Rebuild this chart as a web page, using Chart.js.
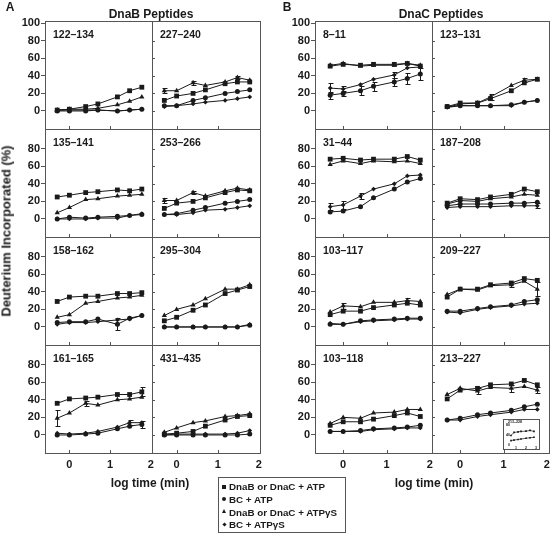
<!DOCTYPE html>
<html>
<head>
<meta charset="utf-8">
<script src="https://cdn.jsdelivr.net/npm/chart.js@4.4.0/dist/chart.umd.min.js"></script>
<style>
  body { margin: 0; background: #fff; }
  #fig { position: relative; width: 551px; height: 534px; overflow: hidden; background: #fff;
         font-family: "Liberation Sans", Arial, sans-serif; color: #1a1a1a; }
  #fig canvas { position: absolute; }
  .txt { position: absolute; font-weight: bold; white-space: nowrap; line-height: 1; transform: translate(-50%, -50%); }
  .tag { position: absolute; font-weight: bold; font-size: 10.5px; line-height: 1; white-space: nowrap; }
  #legend { position: absolute; left: 218px; top: 477px; width: 128px; height: 56px; border: 1px solid #555; box-sizing: border-box; }
  .leg { position: absolute; left: 0; font-size: 9.8px; font-weight: bold; line-height: 1; white-space: nowrap; }
  .leg i { position: absolute; left: 3px; top: 2.5px; width: 4px; height: 4px; background: #1a1a1a; }
  .leg span { position: absolute; left: 10px; top: 0; }
  #insetBox { position: absolute; left: 503px; top: 419px; width: 37px; height: 31px; border: 1px solid #555; background: #fff; box-sizing: border-box; }
</style>
</head>
<body>
<div id="fig"></div>
<script>
// time points (log10 of minutes)
const logTime = [-0.3, 0, 0.4, 0.7, 1.18, 1.48, 1.78];
const yTickValues = [0, 20, 40, 60, 80, 100];
const xTickValues = [0, 1, 2];
const seriesLabels = ['DnaB or DnaC + ATP', 'BC + ATP', 'DnaB or DnaC + ATP\u03b3S', 'BC + ATP\u03b3S'];

// every panel: [ATP (square), BC + ATP (circle), ATPyS (triangle), BC + ATPyS (diamond)]
const b122_134 = [[1, 2, 5, 8, 16, 23, 27], [0, 0, 0, 1, 0, 1, 2], [1, 2, 2, 3, 7, 11, 16], [1, 1, 1, 1, 0, 1, 2]];
const b227_240 = [[12, 17, 20, 24, 31, 33, 33], [6, 6, 12, 15, 20, 22, 24], [23, 23, 32, 29, 33, 38, 35], [5, 6, 8, 10, 12, 14, 16]];
const b135_141 = [[25, 27, 30, 31, 33, 32, 34], [0, 2, 1, 2, 3, 4, 5], [7, 13, 22, 23, 26, 27, 28], [0, 0, 0, 1, 1, 4, 6]];
const b253_266 = [[12, 18, 20, 24, 30, 33, 32], [5, 6, 10, 13, 18, 20, 22], [21, 21, 30, 26, 32, 35, 33], [5, 5, 7, 10, 11, 13, 15]];
const b158_162 = [[29, 34, 35, 35, 38, 38, 39], [5, 6, 6, 9, 3, 10, 13], [11, 14, 27, 29, 33, 34, 36], [3, 5, 5, 6, 8, 9, 13]];
const b295_304 = [[7, 11, 19, 25, 38, 42, 46], [0, 0, 0, 0, 0, 0, 2], [13, 20, 25, 32, 43, 43, 48], [0, 0, 0, 0, 0, 0, 3]];
const b161_165 = [[36, 41, 42, 43, 46, 46, 49], [0, 0, 1, 2, 7, 10, 12], [19, 25, 36, 34, 40, 41, 43], [2, 1, 2, 4, 9, 14, 14]];
const b431_435 = [[1, 2, 4, 10, 17, 21, 22], [0, 0, 0, 0, 0, 0, 1], [3, 8, 14, 16, 21, 22, 24], [0, 1, 1, 1, 1, 2, 5]];

const c8_11 = [[51, 53, 52, 53, 53, 54, 51], [18, 20, 23, 28, 33, 37, 42], [52, 54, 51, 52, 52, 54, 52], [26, 25, 30, 36, 41, 49, 50]];
const c123_131 = [[5, 9, 9, 14, 23, 32, 36], [5, 6, 6, 6, 7, 10, 12], [4, 8, 9, 16, 29, 35, 36], [4, 6, 6, 6, 6, 10, 12]];
const c31_44 = [[68, 69, 67, 68, 68, 71, 67], [8, 9, 14, 24, 34, 42, 46], [62, 66, 63, 66, 65, 66, 63], [14, 16, 26, 34, 40, 49, 50]];
const c187_208 = [[18, 23, 22, 25, 28, 34, 31], [15, 17, 17, 17, 18, 18, 19], [17, 21, 20, 23, 25, 28, 27], [13, 14, 14, 14, 15, 15, 15]];
const c103_117 = [[14, 18, 18, 22, 25, 27, 25], [3, 3, 7, 8, 9, 10, 10], [17, 24, 23, 28, 28, 30, 29], [4, 3, 6, 7, 8, 9, 9]];
const c209_227 = [[34, 43, 43, 48, 50, 55, 53], [18, 18, 21, 23, 25, 29, 31], [37, 43, 42, 47, 48, 52, 43], [17, 16, 20, 22, 24, 26, 27]];
const c103_118 = [[11, 15, 15, 18, 22, 25, 21], [4, 4, 5, 7, 8, 9, 11], [13, 20, 19, 25, 26, 29, 29], [4, 4, 4, 6, 7, 8, 8]];
const c213_227 = [[41, 51, 53, 57, 58, 62, 57], [17, 19, 23, 25, 28, 32, 35], [46, 53, 50, 54, 53, 55, 51], [17, 17, 21, 23, 26, 29, 29]];

// error bars worth drawing: [panel, series, time index, +/-]
const errorBars = [
  ['8–11', 1, 0, 4], ['8–11', 3, 0, 6], ['8–11', 1, 1, 3], ['8–11', 3, 1, 3], ['8–11', 1, 2, 5],
  ['8–11', 1, 3, 5], ['8–11', 1, 4, 5], ['8–11', 3, 4, 3], ['8–11', 1, 5, 6], ['8–11', 1, 6, 7],
  ['123–131', 2, 3, 3], ['123–131', 2, 5, 2],
  ['227–240', 2, 0, 3], ['227–240', 2, 2, 2], ['227–240', 2, 5, 2],
  ['253–266', 2, 0, 3], ['253–266', 2, 2, 2],
  ['158–162', 1, 4, 7],
  ['161–165', 2, 0, 9], ['161–165', 2, 2, 3], ['161–165', 0, 6, 5], ['161–165', 1, 6, 4], ['161–165', 3, 5, 3],
  ['31–44', 3, 0, 4], ['31–44', 3, 1, 5], ['31–44', 3, 2, 3],
  ['187–208', 3, 6, 3],
  ['103–117', 2, 1, 3], ['103–117', 2, 5, 3],
  ['209–227', 2, 4, 3], ['209–227', 2, 6, 8],
  ['213–227', 2, 2, 3], ['213–227', 2, 4, 4], ['213–227', 2, 6, 3]
];

// small inset in 213-227 (peptide 213-228)
const insetTime = [0.5, 0.8, 1.2, 1.5, 2.0, 2.4, 2.8];
const insetUpper = [38, 50, 52, 54, 55, 58, 54];
const insetLower = [18, 20, 22, 24, 27, 29, 31];
const insetYTicks = [0, 20, 40, 60, 80];
const insetXTicks = [1, 2, 3];

const dnaBPanels = [
  ['122–134', b122_134], ['227–240', b227_240],
  ['135–141', b135_141], ['253–266', b253_266],
  ['158–162', b158_162], ['295–304', b295_304],
  ['161–165', b161_165], ['431–435', b431_435]
];
const dnaCPanels = [
  ['8–11', c8_11], ['123–131', c123_131],
  ['31–44', c31_44], ['187–208', c187_208],
  ['103–117', c103_117], ['209–227', c209_227],
  ['103–118', c103_118], ['213–227', c213_227]
];

const INK = '#1a1a1a', FRAME = '#555';
const FONT = 'Liberation Sans, Arial, sans-serif';
const markers = [
  { style: 'rect', r: 3.4 },
  { style: 'circle', r: 2.5 },
  { style: 'triangle', r: 3 },
  { style: 'rectRot', r: 2.4 }
];
const rowTop = [21, 129, 237, 345], rowH = 108;
const groups = [
  { panels: dnaBPanels, colX: [45, 152], colW: [107, 108], xMin: -0.6, xMax: 2.03 },
  { panels: dnaCPanels, colX: [315, 432], colW: [117, 117], xMin: -0.65, xMax: 2.05 }
];

const fig = document.getElementById('fig');

// box round the plot area, plus the little inside ticks
const panelFrame = {
  id: 'panelFrame',
  afterDraw(chart, args, opts) {
    const { ctx, chartArea: a, scales } = chart;
    ctx.save();
    ctx.strokeStyle = FRAME;
    ctx.lineWidth = 1;
    ctx.strokeRect(a.left + 0.5, a.top + 0.5, a.width, a.height);
    ctx.beginPath();
    (opts.xTicks || []).forEach(v => {
      const x = Math.round(scales.x.getPixelForValue(v)) + 0.5;
      if (x < a.left + 3 || x > a.right - 3) return;
      ctx.moveTo(x, a.bottom); ctx.lineTo(x, a.bottom - 3);
    });
    (opts.yTicks || []).forEach(v => {
      const y = Math.round(scales.y.getPixelForValue(v)) + 0.5;
      if (y < a.top + 3 || y > a.bottom - 3) return;
      ctx.moveTo(a.left, y); ctx.lineTo(a.left + 3, y);
    });
    ctx.stroke();
    ctx.restore();
  }
};

const errBars = {
  id: 'errBars',
  afterDatasetsDraw(chart, args, opts) {
    const bars = opts.bars || [];
    if (!bars.length) return;
    const { ctx, scales } = chart;
    ctx.save();
    ctx.strokeStyle = INK;
    ctx.lineWidth = 1;
    ctx.beginPath();
    bars.forEach(([s, i, e]) => {
      const v = chart.data.datasets[s].data[i].y;
      const x = Math.round(scales.x.getPixelForValue(logTime[i])) + 0.5;
      const y1 = Math.round(scales.y.getPixelForValue(v + e)) + 0.5;
      const y2 = Math.round(scales.y.getPixelForValue(v - e)) + 0.5;
      ctx.moveTo(x, y1); ctx.lineTo(x, y2);
      ctx.moveTo(x - 2, y1); ctx.lineTo(x + 3, y1);
      ctx.moveTo(x - 2, y2); ctx.lineTo(x + 3, y2);
    });
    ctx.stroke();
    ctx.restore();
  }
};

function addText(cls, text, x, y, css) {
  const d = document.createElement('div');
  d.className = cls;
  d.textContent = text;
  d.style.left = x + 'px';
  d.style.top = y + 'px';
  Object.assign(d.style, css || {});
  fig.appendChild(d);
  return d;
}

function drawPanel(group, idx) {
  const [name, series] = group.panels[idx];
  const col = idx % 2, row = Math.floor(idx / 2);
  const leftCol = col === 0, topRow = row === 0, bottomRow = row === rowTop.length - 1;
  const px = group.colX[col], py = rowTop[row], pw = group.colW[col];
  const L = leftCol ? 45 : 4, T = 6, R = 6, B = bottomRow ? 24 : 6;

  const cv = document.createElement('canvas');
  cv.width = L + pw + R;
  cv.height = T + rowH + B;
  cv.style.left = (px - L) + 'px';
  cv.style.top = (py - T) + 'px';
  fig.appendChild(cv);

  const yShown = yTickValues.filter(v => topRow || v < 100);
  const tickFont = { family: FONT, size: 11, weight: 'bold' };

  new Chart(cv, {
    type: 'scatter',
    data: {
      datasets: series.map((vals, s) => ({
        label: seriesLabels[s],
        data: vals.map((v, i) => ({ x: logTime[i], y: v })),
        showLine: true,
        borderColor: INK,
        borderWidth: 1,
        pointStyle: markers[s].style,
        pointRadius: markers[s].r,
        pointBackgroundColor: INK,
        pointBorderColor: INK,
        pointBorderWidth: 0
      }))
    },
    options: {
      responsive: false,
      animation: false,
      devicePixelRatio: 1,
      layout: { padding: { left: leftCol ? 0 : L, top: T, right: R, bottom: bottomRow ? 0 : B } },
      plugins: {
        legend: { display: false },
        tooltip: { enabled: false },
        panelFrame: { xTicks: xTickValues, yTicks: leftCol ? [] : yShown },
        errBars: { bars: errorBars.filter(b => b[0] === name).map(b => [b[1], b[2], b[3]]) }
      },
      scales: {
        x: {
          type: 'linear',
          min: group.xMin, max: group.xMax,
          display: bottomRow,
          afterBuildTicks: s => { s.ticks = xTickValues.map(v => ({ value: v })); },
          afterFit: s => { if (bottomRow) s.height = B; s.paddingLeft = 0; s.paddingRight = 0; },
          grid: { display: false, drawTicks: false },
          border: { display: false },
          ticks: { font: tickFont, color: INK, padding: 5, maxRotation: 0 }
        },
        y: {
          type: 'linear',
          min: -20.5, max: 102.3,
          display: leftCol,
          afterBuildTicks: s => { s.ticks = yShown.map(v => ({ value: v })); },
          afterFit: s => { if (leftCol) s.width = L; s.paddingTop = 0; s.paddingBottom = 0; },
          grid: { display: true, drawOnChartArea: false, drawTicks: true, tickLength: 4, color: FRAME },
          border: { display: false },
          ticks: { font: tickFont, color: INK, padding: 1 }
        }
      }
    },
    plugins: [panelFrame, errBars]
  });

  addText('tag', name, px + 8, py + 8);
}

groups.forEach(g => g.panels.forEach((p, i) => drawPanel(g, i)));

// inset (213-228) inside the last DnaC panel
(function drawInset() {
  const box = document.createElement('div');
  box.id = 'insetBox';
  fig.appendChild(box);
  const cv = document.createElement('canvas');
  cv.width = 37; cv.height = 31;
  cv.style.left = '503px'; cv.style.top = '419px';
  fig.appendChild(cv);
  const small = { family: FONT, size: 3.6, weight: 'bold' };
  new Chart(cv, {
    type: 'scatter',
    data: {
      datasets: [insetUpper, insetLower].map(vals => ({
        data: vals.map((v, i) => ({ x: insetTime[i], y: v })),
        showLine: true, borderColor: INK, borderWidth: 0.7,
        pointStyle: 'rect', pointRadius: 1.2, pointBackgroundColor: INK, pointBorderWidth: 0
      }))
    },
    options: {
      responsive: false, animation: false, devicePixelRatio: 1,
      layout: { padding: { left: 0, top: 2, right: 1, bottom: 0 } },
      plugins: { legend: { display: false }, tooltip: { enabled: false } },
      scales: {
        x: {
          type: 'linear', min: 0.4, max: 3.0,
          afterBuildTicks: s => { s.ticks = insetXTicks.map(v => ({ value: v })); },
          afterFit: s => { s.height = 4; s.paddingLeft = 0; s.paddingRight = 0; },
          grid: { display: false, drawTicks: false }, border: { display: false },
          ticks: { font: small, color: INK, padding: 0, maxRotation: 0 }
        },
        y: {
          type: 'linear', min: -3.6, max: 87.3,
          afterBuildTicks: s => { s.ticks = insetYTicks.map(v => ({ value: v })); },
          afterFit: s => { s.width = 7; s.paddingTop = 0; s.paddingBottom = 0; },
          grid: { display: false, drawTicks: false }, border: { display: false },
          ticks: { font: small, color: INK, padding: 0 }
        }
      }
    }
  });
  addText('tag', '213–228', 508, 420.5, { fontSize: '3.6px' });
})();

// titles and axis names
addText('txt', 'A', 10, 7, { fontSize: '12px' });
addText('txt', 'DnaB Peptides', 151, 14, { fontSize: '12px' });
addText('txt', 'B', 287, 7, { fontSize: '12px' });
addText('txt', 'DnaC Peptides', 441, 14, { fontSize: '12px' });
addText('txt', 'Deuterium Incorporated (%)', 6, 231, { fontSize: '13px', transform: 'translate(-50%, -50%) rotate(-90deg)' });
addText('txt', 'log time (min)', 150, 483, { fontSize: '12px' });
addText('txt', 'log time (min)', 434, 483, { fontSize: '12px' });

// legend
const legend = document.createElement('div');
legend.id = 'legend';
fig.appendChild(legend);
const legendMarkCss = [
  {},
  { borderRadius: '50%' },
  { width: '0', height: '0', background: 'none', borderLeft: '2.5px solid transparent', borderRight: '2.5px solid transparent', borderBottom: '4.5px solid ' + INK, top: '1.5px' },
  { width: '3px', height: '3px', transform: 'rotate(45deg)', left: '3.5px', top: '3px' }
];
seriesLabels.forEach((lab, s) => {
  const row = document.createElement('div');
  row.className = 'leg';
  row.style.top = (4 + s * 12.8) + 'px';
  const mark = document.createElement('i');
  Object.assign(mark.style, legendMarkCss[s]);
  const txt = document.createElement('span');
  txt.textContent = lab;
  row.appendChild(mark);
  row.appendChild(txt);
  legend.appendChild(row);
});
</script>
</body>
</html>
